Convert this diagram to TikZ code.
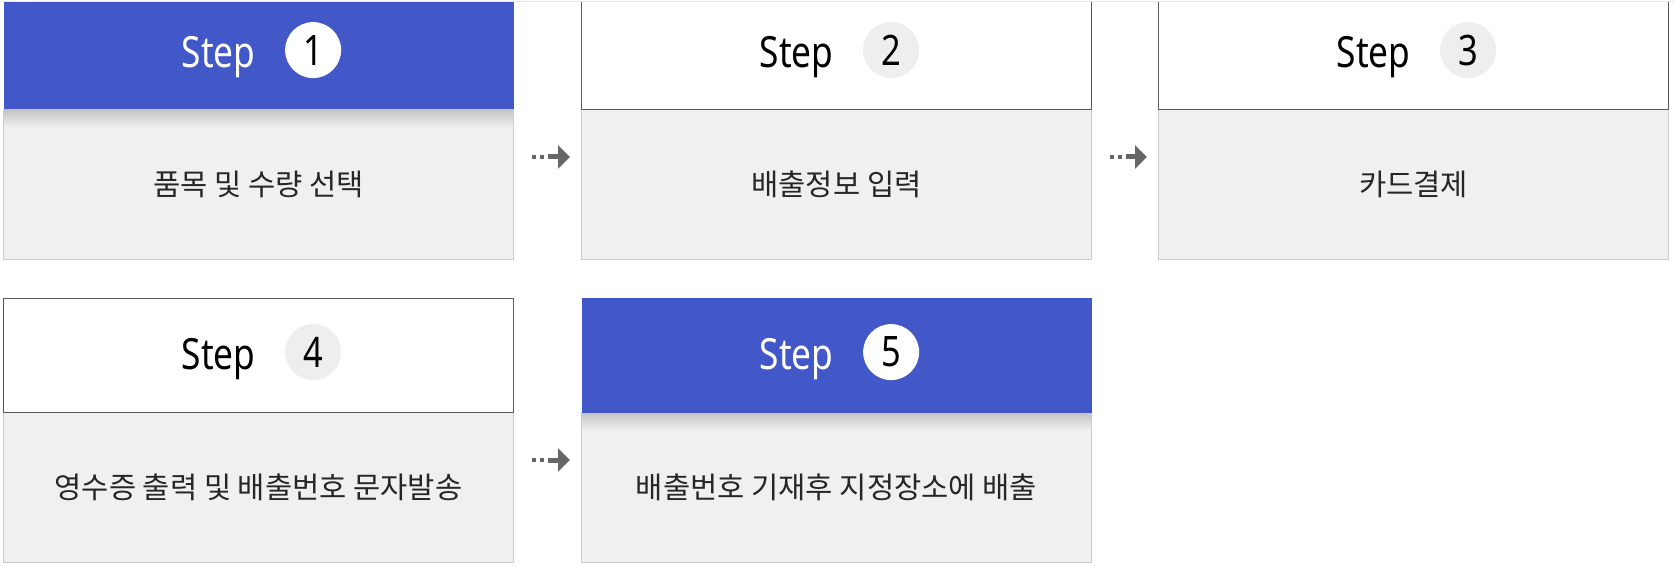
\documentclass[tikz,border=0pt]{standalone}
\usepackage{fontspec}
\usepackage{tikz}
\usetikzlibrary{positioning,calc,arrows.meta}

\newfontfamily\stepfont[FakeStretch=0.82]{Noto Sans}
\newfontfamily\kofont{Noto Sans CJK KR}

\definecolor{stepblue}{HTML}{4257C8}
\definecolor{bodygray}{HTML}{F0F0F0}
\definecolor{bodyline}{HTML}{CCCCCC}
\definecolor{hdrline}{HTML}{5A5A5A}
\definecolor{numgray}{HTML}{EEEEEE}
\definecolor{arrowgray}{HTML}{666666}
\definecolor{topline}{HTML}{E6E6E6}

\begin{document}
\begin{tikzpicture}[x=0.5pt, y=-0.5pt,
    hdr/.style={draw=hdrline, line width=0.5pt, fill=white, anchor=north west, inner sep=0pt, minimum width=255pt, minimum height=57pt},
    hdron/.style={hdr, draw=none, fill=stepblue},
    bodybox/.style={draw=bodyline, line width=0.5pt, fill=bodygray, anchor=north west, inner sep=0pt, minimum width=255pt, minimum height=75pt, text=black!85, font=\kofont\fontsize{14.8}{17}\selectfont},
    steptxt/.style={anchor=base, inner sep=0pt, font=\stepfont\fontsize{21.5}{25}\selectfont},
    num/.style={circle, fill=numgray, inner sep=0pt, minimum size=28pt, font=\stepfont\fontsize{21}{25}\selectfont},
    numon/.style={num, fill=white},
    dots/.style={arrowgray, line width=2pt, dash pattern=on 2pt off 2pt},
    go/.style={arrowgray, line width=2.5pt, -{Triangle[length=6pt,width=11.5pt]}},
    hdrshadow/.style={top color=black!24, bottom color=bodygray}]

        \useasboundingbox (0,0) rectangle (1674,566);

        % bodies
        \node[bodybox] (body1) at (3,109) {품목 및 수량 선택};
        \node[bodybox] (body2) at (581,109) {배출정보 입력};
        \node[bodybox] (body3) at (1158,109) {카드결제};
        \node[bodybox] (body4) at (3,412) {영수증 출력 및 배출번호 문자발송};
        \node[bodybox] (body5) at (581,412) {배출번호 기재후 지정장소에 배출};

        \shade[hdrshadow] ($(body1.north west)+(1,0)$) rectangle ($(body1.north east)+(-1,18)$);
        \shade[hdrshadow] ($(body5.north west)+(1,0)$) rectangle ($(body5.north east)+(-1,18)$);

        % headers
        \begin{scope}
            \clip (0,3) rectangle (1674,566);
            \node[hdron] (hdr1) at (3,-5) {};
            \node[hdr] (hdr2) at (581,-5) {};
            \node[hdr] (hdr3) at (1158,-5) {};
        \end{scope}
        \node[hdr] (hdr4) at (3,298) {};
        \node[hdron] (hdr5) at (581,298) {};

        \draw[topline, line width=0.5pt] (0,2) -- (1674,2);

        \node[steptxt, text=white] (stp1) at ($(hdr1.center)+(-40,15)$) {Step};
        \node[numon, right=14.5pt of stp1, yshift=3.5pt] (num1) {1};

        \node[steptxt] (stp2) at ($(hdr2.center)+(-40,15)$) {Step};
        \node[num, right=14.5pt of stp2, yshift=3.5pt] (num2) {2};

        \node[steptxt] (stp3) at ($(hdr3.center)+(-40,15)$) {Step};
        \node[num, right=14.5pt of stp3, yshift=3.5pt] (num3) {3};

        \node[steptxt] (stp4) at ($(hdr4.center)+(-40,14)$) {Step};
        \node[num, right=14.5pt of stp4, yshift=3.5pt] (num4) {4};

        \node[steptxt, text=white] (stp5) at ($(hdr5.center)+(-40,14)$) {Step};
        \node[numon, right=14.5pt of stp5, yshift=3.5pt] (num5) {5};

        % arrows
        \coordinate (arr1a) at ($(body1.north east)+(18,48)$);
        \coordinate (arr1b) at ($(arr1a)+(16,0)$);
        \coordinate (arr1c) at ($(body2.north west)+(-11,48)$);
        \draw[dots] (arr1a) -- (arr1b);
        \draw[go] (arr1b) -- (arr1c);

        \coordinate (arr2a) at ($(body2.north east)+(18,48)$);
        \coordinate (arr2b) at ($(arr2a)+(16,0)$);
        \coordinate (arr2c) at ($(body3.north west)+(-11,48)$);
        \draw[dots] (arr2a) -- (arr2b);
        \draw[go] (arr2b) -- (arr2c);

        \coordinate (arr3a) at ($(body4.north east)+(18,48)$);
        \coordinate (arr3b) at ($(arr3a)+(16,0)$);
        \coordinate (arr3c) at ($(body5.north west)+(-11,48)$);
        \draw[dots] (arr3a) -- (arr3b);
        \draw[go] (arr3b) -- (arr3c);

    \end{tikzpicture}
\end{document}
